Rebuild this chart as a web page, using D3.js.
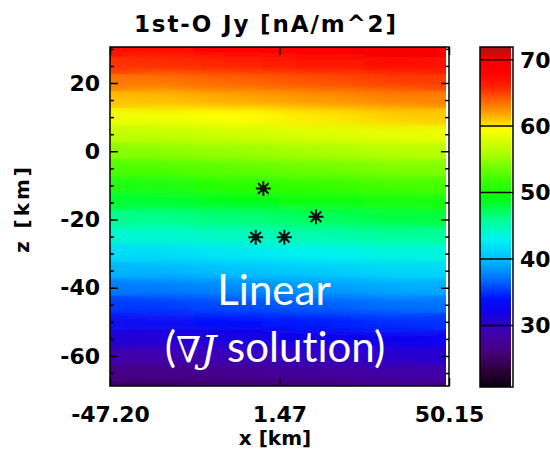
<!DOCTYPE html>
<html>
<head>
<meta charset="utf-8">
<script src="https://cdn.jsdelivr.net/npm/d3@7"></script>
<style>
  body { margin: 0; background: #fff; }
  svg { display: block; }
</style>
</head>
<body>
<svg id="chart" width="550" height="459"></svg>
<script>
// ---- data -------------------------------------------------------------
// Jy [nA/m^2] on a regular grid: columns at xCenters (km), rows at zCenters (km)
const xCenters = [-35.03, -10.69, 13.64, 37.98];
const zCenters = [30, 25, 20, 15, 10, 5, 0, -5, -10, -15, -20, -25, -30, -35, -40, -45, -50, -55, -60, -65, -70];
const jyGrid = [
  [67.5, 68.1, 68.7, 69.3],
  [65.4, 66.0, 66.6, 67.2],
  [63.2, 63.8, 64.4, 65.1],
  [61.1, 61.7, 62.3, 62.9],
  [58.9, 59.5, 60.1, 60.8],
  [56.8, 57.4, 58.0, 58.6],
  [54.6, 55.2, 55.8, 56.5],
  [52.5, 53.1, 53.7, 54.3],
  [50.3, 50.9, 51.5, 52.2],
  [48.2, 48.8, 49.4, 50.0],
  [46.0, 46.6, 47.2, 47.9],
  [43.9, 44.5, 45.1, 45.7],
  [41.7, 42.3, 42.9, 43.6],
  [39.6, 40.2, 40.8, 41.4],
  [37.4, 38.0, 38.6, 39.3],
  [35.3, 35.9, 36.5, 37.1],
  [33.1, 33.7, 34.3, 35.0],
  [31.0, 31.6, 32.2, 32.8],
  [28.8, 29.4, 30.0, 30.7],
  [26.7, 27.3, 27.9, 28.5],
  [24.5, 25.1, 25.7, 26.4]
];
// spacecraft positions (km)
const starX = [-3.17, 11.96, -5.36, 2.86];
const starZ = [-10.9, -19.2, -25.2, -25.2];

const xDomain = [-47.20, 50.15];
const zDomain = [-68.8, 30.55];
const jyDomain = [20.75, 71.9];

const xTicks = [-47.20, 1.475, 50.15];
const xTickLabels = ["-47.20", "1.47", "50.15"];
const zTicks = [-60, -40, -20, 0, 20];
const zMinorTicks = [-65, -55, -50, -45, -35, -30, -25, -15, -10, -5, 5, 10, 15, 25, 30];
const barTicks = [30, 40, 50, 60, 70];

// rainbow palette stops (value -> colour)
const paletteValues = [20.75, 23, 26, 29, 32, 34, 37, 40, 43, 46, 49, 52, 56, 59.5, 61.5, 63.5, 66, 68, 70.2, 71.9];
const paletteColors = ["#0a0010", "#2a0035", "#48007a", "#4000b0", "#1000e8", "#0010ff", "#0070ff", "#00c0ff",
  "#00f4f0", "#00ff90", "#00ff10", "#40ff00", "#b0ff00", "#ffff00", "#ffb000", "#ff7000", "#ff2000",
  "#ff0000", "#f00000", "#a81414"];

// ---- layout -----------------------------------------------------------
const plot = { left: 110, top: 47, right: 449, bottom: 386 };
const bar = { left: 480, right: 513, top: 47, bottom: 387 };

const svg = d3.select("#chart");
const defs = svg.append("defs");

const xScale = d3.scaleLinear().domain(xDomain).range([plot.left, plot.right]);
const zScale = d3.scaleLinear().domain(zDomain).range([plot.bottom, plot.top]);
const barScale = d3.scaleLinear().domain(jyDomain).range([bar.bottom, bar.top]);
const color = d3.scaleLinear().domain(paletteValues).range(paletteColors)
  .interpolate(d3.interpolateRgb).clamp(true);

const labelFont = "'DejaVu Sans', sans-serif";

// ---- image of Jy -------------------------------------------------------
defs.append("clipPath").attr("id", "plotClip")
  .append("rect")
  .attr("x", plot.left).attr("y", plot.top)
  .attr("width", plot.right - plot.left - 3).attr("height", plot.bottom - plot.top);

defs.append("filter").attr("id", "soft")
  .attr("x", "-20%").attr("y", "-5%").attr("width", "140%").attr("height", "110%")
  .append("feGaussianBlur").attr("stdDeviation", "26 4.5");

const dx = xCenters[1] - xCenters[0];
const dz = zCenters[0] - zCenters[1];
const cells = [];
zCenters.forEach((zc, i) => xCenters.forEach((xc, j) => {
  cells.push({ x: xc, z: zc, v: jyGrid[i][j] });
}));

const imgG = svg.append("g").attr("clip-path", "url(#plotClip)");
function drawCells(g) {
  g.selectAll("rect").data(cells).join("rect")
    .attr("x", d => xScale(d.x - dx / 2) - 0.5)
    .attr("y", d => zScale(d.z + dz / 2) - 0.5)
    .attr("width", d => xScale(d.x + dx / 2) - xScale(d.x - dx / 2) + 1)
    .attr("height", d => zScale(d.z - dz / 2) - zScale(d.z + dz / 2) + 1)
    .attr("fill", d => color(d.v));
}
drawCells(imgG.append("g"));
drawCells(imgG.append("g").attr("filter", "url(#soft)"));

// ---- spacecraft markers ---------------------------------------------------
const starPath = (() => {
  const r = 7.5, p = d3.path();
  for (let k = 0; k < 4; k++) {
    const a = k * Math.PI / 4;
    p.moveTo(-r * Math.cos(a), -r * Math.sin(a));
    p.lineTo(r * Math.cos(a), r * Math.sin(a));
  }
  return p.toString();
})();
const stars = svg.append("g").selectAll("g")
  .data(starX.map((x, i) => ({ x, z: starZ[i] })))
  .join("g")
  .attr("transform", d => `translate(${xScale(d.x)},${zScale(d.z)})`);
stars.append("path").attr("d", starPath).attr("stroke", "#111").attr("stroke-width", 2).attr("fill", "none");
stars.append("circle").attr("r", 3.2).attr("fill", "#111");

// ---- axes -------------------------------------------------------------
function styleAxis(g) {
  g.select(".domain").remove();
  g.selectAll("line").attr("stroke", "#000").attr("stroke-width", 1.5);
  g.selectAll("text").attr("fill", "#000")
    .style("font-family", labelFont).style("font-weight", "bold").style("font-size", "22px");
}

svg.append("g").attr("transform", `translate(${plot.left},0)`)
  .call(d3.axisLeft(zScale).tickValues(zTicks).tickSize(-8).tickPadding(10).tickFormat(d => String(d)))
  .call(styleAxis);
svg.append("g").attr("transform", `translate(${plot.left},0)`)
  .call(d3.axisLeft(zScale).tickValues(zMinorTicks).tickSize(-4).tickFormat(""))
  .call(styleAxis);
svg.append("g").attr("transform", `translate(${plot.right},0)`)
  .call(d3.axisRight(zScale).tickValues(zTicks).tickSize(-8).tickFormat(""))
  .call(styleAxis);
svg.append("g").attr("transform", `translate(${plot.right},0)`)
  .call(d3.axisRight(zScale).tickValues(zMinorTicks).tickSize(-4).tickFormat(""))
  .call(styleAxis);
svg.append("g").attr("transform", `translate(0,${plot.bottom})`)
  .call(d3.axisBottom(xScale).tickValues(xTicks).tickSize(-8).tickPadding(20)
    .tickFormat((d, i) => xTickLabels[i]))
  .call(styleAxis);
svg.append("g").attr("transform", `translate(0,${plot.top})`)
  .call(d3.axisTop(xScale).tickValues(xTicks).tickSize(-8).tickFormat(""))
  .call(styleAxis);

svg.append("rect")
  .attr("x", plot.left).attr("y", plot.top)
  .attr("width", plot.right - plot.left).attr("height", plot.bottom - plot.top)
  .attr("fill", "none").attr("stroke", "#000").attr("stroke-width", 1.5);

// axis titles
svg.append("text")
  .attr("x", 275).attr("y", 445).attr("text-anchor", "middle")
  .style("font-family", labelFont).style("font-weight", "bold").style("font-size", "20px")
  .text("x [km]");
svg.append("text")
  .attr("transform", "translate(29,210) rotate(-90)").attr("text-anchor", "middle")
  .attr("textLength", 86).attr("lengthAdjust", "spacing")
  .style("font-family", labelFont).style("font-weight", "bold").style("font-size", "20px")
  .text("z [km]");

// title
svg.append("text")
  .attr("x", 265).attr("y", 32).attr("text-anchor", "middle")
  .attr("textLength", 262).attr("lengthAdjust", "spacing")
  .style("font-family", labelFont).style("font-weight", "bold").style("font-size", "23px")
  .text("1st-O Jy [nA/m^2]");

// ---- colour bar -------------------------------------------------------
const grad = defs.append("linearGradient").attr("id", "barGrad")
  .attr("x1", 0).attr("y1", 1).attr("x2", 0).attr("y2", 0);
grad.selectAll("stop").data(paletteValues).join("stop")
  .attr("offset", v => (v - jyDomain[0]) / (jyDomain[1] - jyDomain[0]))
  .attr("stop-color", v => color(v));

svg.append("rect")
  .attr("x", bar.left).attr("y", bar.top)
  .attr("width", bar.right - bar.left - 2).attr("height", bar.bottom - bar.top)
  .attr("fill", "url(#barGrad)");

svg.append("g").selectAll("line").data(barTicks).join("line")
  .attr("x1", bar.left).attr("x2", bar.right)
  .attr("y1", v => barScale(v)).attr("y2", v => barScale(v))
  .attr("stroke", "#000").attr("stroke-width", 1.5);

svg.append("rect")
  .attr("x", bar.left).attr("y", bar.top)
  .attr("width", bar.right - bar.left).attr("height", bar.bottom - bar.top)
  .attr("fill", "none").attr("stroke", "#000").attr("stroke-width", 1.5);

svg.append("g").selectAll("text").data(barTicks).join("text")
  .attr("x", 520).attr("y", v => barScale(v)).attr("dy", "0.36em")
  .style("font-family", labelFont).style("font-weight", "bold").style("font-size", "22px")
  .text(v => String(v));

// ---- annotation ---------------------------------------------------------
const note = svg.append("g")
  .attr("fill", "#fff")
  .style("font-family", "Lato, 'Open Sans', sans-serif")
  .style("font-size", "42px")
  .style("font-variant-ligatures", "none")
  .style("font-feature-settings", "'liga' 0, 'clig' 0");
note.append("text").attr("x", 274).attr("y", 305).attr("text-anchor", "middle").text("Linear");
const line2 = note.append("text").attr("x", 275).attr("y", 362).attr("text-anchor", "middle");
line2.append("tspan").text("(");
line2.append("tspan").style("font-family", "'DejaVu Serif', serif").style("font-size", "36px").text("\u2207");
line2.append("tspan").style("font-family", "'DejaVu Serif', serif").style("font-style", "italic").style("font-size", "38px").text("J");
line2.append("tspan").text(" solution)");
</script>
</body>
</html>
